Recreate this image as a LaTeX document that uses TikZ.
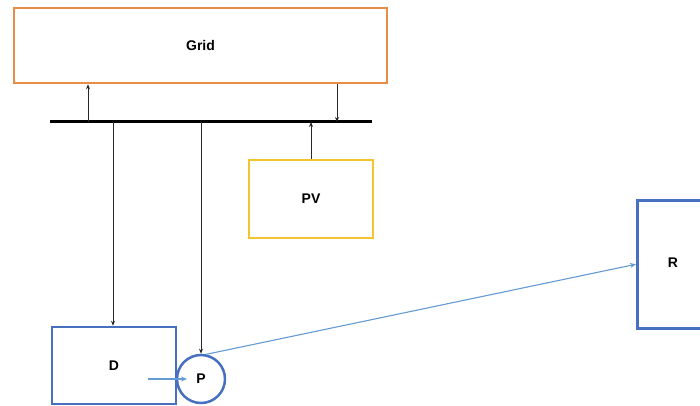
\documentclass[tikz,border=0pt]{standalone}
\usepackage{fontspec}
\setmainfont{Liberation Sans}
\usetikzlibrary{arrows.meta}
\definecolor{gridor}{RGB}{232,140,70}
\definecolor{pvyel}{RGB}{242,196,48}
\definecolor{boxblue}{RGB}{72,112,192}
\definecolor{lineblue}{RGB}{100,155,210}
\begin{document}
\begin{tikzpicture}[x=1pt,y=-1pt,
  box/.style={draw,line width=2.5pt,font=\bfseries\fontsize{14}{16}\selectfont,inner sep=0pt},
  blk/.style={line width=0.9pt,draw={rgb,255:red,40;green,40;blue,40},-{Stealth[length=5pt,width=4pt]}},
  blu/.style={lineblue,line width=1.1pt,-{Stealth[length=6pt,width=5pt]}}]
\useasboundingbox (0,0) rectangle (700,406);
\clip (0,0) rectangle (700,406);
\node[box,draw=gridor,minimum width=373pt,minimum height=75pt] (grid) at (200.5,45.5) {Grid};
\node[box,draw=pvyel,minimum width=124pt,minimum height=78pt] (pv) at (311,199) {PV};
\node[box,draw=boxblue,minimum width=124pt,minimum height=77pt] (d) at (114,365.5) {D};
\node[box,draw=boxblue,circle,minimum size=48pt] (p) at (201,379) {P};
\node[box,draw=boxblue,minimum width=76pt,minimum height=128pt,anchor=north west] (r) at (636,199) {};
\node[font=\bfseries\fontsize{14}{16}\selectfont] (rl) at (673,263) {R};
\coordinate (bl) at (50,122);
\coordinate (br) at (372,122);
\draw[line width=3pt] (bl) -- (br);
\coordinate (a1) at (88,122);
\coordinate (a2) at (337,122);
\coordinate (a3) at (311,122);
\coordinate (a4) at (113,122);
\coordinate (a5) at (201,122);
\draw[blk] (a1) -- (a1 |- grid.south);
\draw[blk] (a2 |- grid.south) -- (a2);
\draw[blk] (pv.north) -- (a3);
\draw[blk] (a4) -- (a4 |- d.north);
\draw[blk] (a5) -- (p.north);
\coordinate (dp) at (148,379);
\draw[blu] (dp) -- (187,379);
\draw[blu] (p.78) -- (r.west);
\end{tikzpicture}
\end{document}
